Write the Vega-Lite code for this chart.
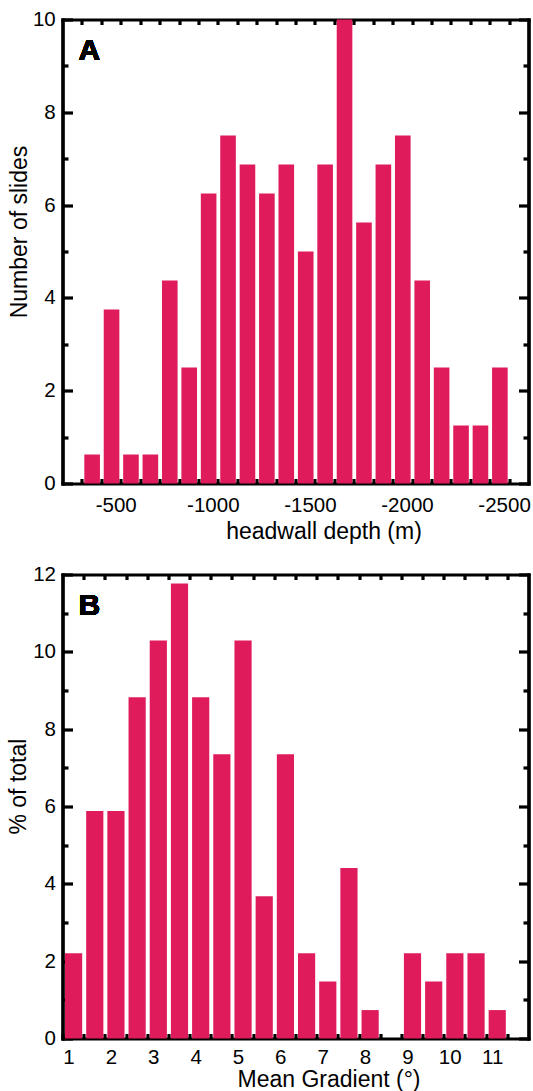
{
  "$schema": "https://vega.github.io/schema/vega-lite/v6.json",
  "autosize": {"type": "pad"},
  "padding": {"left": 6.5, "top": 9.5, "right": 0, "bottom": 0},
  "bounds": "flush",
  "spacing": 91,
  "config": {
    "view": {"stroke": null},
    "font": "Liberation Sans",
    "axis": {
      "domainColor": "black", "domainWidth": 3.2, "domainCap": "square",
      "tickColor": "black", "tickWidth": 3.2,
      "labelFont": "Liberation Sans", "labelFontSize": 20.5, "labelColor": "black",
      "labelFlush": false, "labelOverlap": false,
      "titleFont": "Liberation Sans", "titleFontSize": 23, "titleFontWeight": "normal", "titleColor": "black",
      "grid": false, "zindex": 1
    }
  },
  "vconcat": [
    {
      "width": 466, "height": 464,
      "data": {"values": [
        {"shallow": -300, "deep": -400, "v": 0.625},
        {"shallow": -400, "deep": -500, "v": 3.75},
        {"shallow": -500, "deep": -600, "v": 0.625},
        {"shallow": -600, "deep": -700, "v": 0.625},
        {"shallow": -700, "deep": -800, "v": 4.375},
        {"shallow": -800, "deep": -900, "v": 2.5},
        {"shallow": -900, "deep": -1000, "v": 6.25},
        {"shallow": -1000, "deep": -1100, "v": 7.5},
        {"shallow": -1100, "deep": -1200, "v": 6.875},
        {"shallow": -1200, "deep": -1300, "v": 6.25},
        {"shallow": -1300, "deep": -1400, "v": 6.875},
        {"shallow": -1400, "deep": -1500, "v": 5.0},
        {"shallow": -1500, "deep": -1600, "v": 6.875},
        {"shallow": -1600, "deep": -1700, "v": 10},
        {"shallow": -1700, "deep": -1800, "v": 5.625},
        {"shallow": -1800, "deep": -1900, "v": 6.875},
        {"shallow": -1900, "deep": -2000, "v": 7.5},
        {"shallow": -2000, "deep": -2100, "v": 4.375},
        {"shallow": -2100, "deep": -2200, "v": 2.5},
        {"shallow": -2200, "deep": -2300, "v": 1.25},
        {"shallow": -2300, "deep": -2400, "v": 1.25},
        {"shallow": -2400, "deep": -2500, "v": 2.5}
      ]},
      "resolve": {"scale": {"x": "independent", "y": "independent"}},
      "layer": [
        {
          "mark": {"type": "bar", "color": "#E01B5B", "binSpacing": 3.8},
          "encoding": {
            "x": {"field": "deep", "type": "quantitative", "bin": "binned",
              "scale": {"domain": [-2600, -200], "reverse": true, "nice": false, "zero": false},
              "axis": {"orient": "bottom", "values": [-300,-400,-500,-600,-700,-800,-900,-1000,-1100,-1200,-1300,-1400,-1500,-1600,-1700,-1800,-1900,-2000,-2100,-2200,-2300,-2400,-2500],
                "labelExpr": "datum.value % 500 === 0 ? toString(datum.value) : ''",
                "tickSize": -5, "labelPadding": 32.9, "labelBaseline": "alphabetic", "labelOffset": -5,
                "title": "headwall depth (m)", "titleX": 261, "titleY": 55, "titleBaseline": "alphabetic", "titleAlign": "center"}},
            "x2": {"field": "shallow"},
            "y": {"field": "v", "type": "quantitative",
              "scale": {"domain": [0, 10], "nice": false},
              "axis": {"orient": "left", "values": [0, 2, 4, 6, 8, 10], "tickSize": -10, "labelPadding": 17.3,
                "title": "Number of slides", "titleX": -36.5, "titleY": 212, "titleBaseline": "alphabetic", "titleAlign": "center", "titleAngle": 270}}
          }
        },
        {
          "mark": {"type": "point", "opacity": 0},
          "encoding": {
            "x": {"field": "deep", "type": "quantitative",
              "scale": {"domain": [-2600, -200], "reverse": true, "nice": false, "zero": false},
              "axis": {"orient": "top", "values": [-300,-400,-500,-600,-700,-800,-900,-1000,-1100,-1200,-1300,-1400,-1500,-1600,-1700,-1800,-1900,-2000,-2100,-2200,-2300,-2400,-2500],
                "labels": false, "tickSize": -5, "title": null}},
            "y": {"field": "v", "type": "quantitative",
              "scale": {"domain": [0, 10], "nice": false},
              "axis": {"orient": "left", "values": [1, 3, 5, 7, 9], "labels": false, "tickSize": -5.5, "title": null}}
          }
        },
        {
          "mark": {"type": "point", "opacity": 0},
          "encoding": {
            "x": {"field": "deep", "type": "quantitative",
              "scale": {"domain": [-2600, -200], "reverse": true, "nice": false, "zero": false}, "axis": null},
            "y": {"field": "v", "type": "quantitative",
              "scale": {"domain": [0, 10], "nice": false},
              "axis": {"orient": "right", "values": [0, 2, 4, 6, 8, 10], "labels": false, "tickSize": -10, "title": null}}
          }
        },
        {
          "mark": {"type": "point", "opacity": 0},
          "encoding": {
            "x": {"field": "deep", "type": "quantitative",
              "scale": {"domain": [-2600, -200], "reverse": true, "nice": false, "zero": false}, "axis": null},
            "y": {"field": "v", "type": "quantitative",
              "scale": {"domain": [0, 10], "nice": false},
              "axis": {"orient": "right", "values": [1, 3, 5, 7, 9], "labels": false, "tickSize": -5.5, "title": null}}
          }
        },
        {
          "mark": {"type": "text", "text": "A", "fontSize": 30, "fontWeight": "bold", "font": "Liberation Sans", "align": "left", "baseline": "alphabetic", "color": "black"},
          "encoding": {
            "x": {"datum": -282, "type": "quantitative",
              "scale": {"domain": [-2600, -200], "reverse": true, "nice": false, "zero": false}, "axis": null},
            "y": {"datum": 9.13, "type": "quantitative",
              "scale": {"domain": [0, 10], "nice": false}, "axis": null}
          }
        }
      ]
    },
    {
      "width": 466, "height": 464,
      "data": {"values": [
        {"lo": 1.0, "hi": 1.5, "v": 2.206},
        {"lo": 1.5, "hi": 2.0, "v": 5.882},
        {"lo": 2.0, "hi": 2.5, "v": 5.882},
        {"lo": 2.5, "hi": 3.0, "v": 8.824},
        {"lo": 3.0, "hi": 3.5, "v": 10.294},
        {"lo": 3.5, "hi": 4.0, "v": 11.765},
        {"lo": 4.0, "hi": 4.5, "v": 8.824},
        {"lo": 4.5, "hi": 5.0, "v": 7.353},
        {"lo": 5.0, "hi": 5.5, "v": 10.294},
        {"lo": 5.5, "hi": 6.0, "v": 3.676},
        {"lo": 6.0, "hi": 6.5, "v": 7.353},
        {"lo": 6.5, "hi": 7.0, "v": 2.206},
        {"lo": 7.0, "hi": 7.5, "v": 1.471},
        {"lo": 7.5, "hi": 8.0, "v": 4.412},
        {"lo": 8.0, "hi": 8.5, "v": 0.735},
        {"lo": 8.5, "hi": 9.0, "v": 0},
        {"lo": 9.0, "hi": 9.5, "v": 2.206},
        {"lo": 9.5, "hi": 10.0, "v": 1.471},
        {"lo": 10.0, "hi": 10.5, "v": 2.206},
        {"lo": 10.5, "hi": 11.0, "v": 2.206},
        {"lo": 11.0, "hi": 11.5, "v": 0.735}
      ]},
      "resolve": {"scale": {"x": "independent", "y": "independent"}},
      "layer": [
        {
          "mark": {"type": "bar", "color": "#E01B5B", "binSpacing": 4},
          "encoding": {
            "x": {"field": "lo", "type": "quantitative", "bin": "binned",
              "scale": {"domain": [1, 12], "nice": false, "zero": false},
              "axis": {"orient": "bottom", "values": [1,1.5,2,2.5,3,3.5,4,4.5,5,5.5,6,6.5,7,7.5,8,8.5,9,9.5,10,10.5,11,11.5],
                "labelExpr": "datum.value % 1 === 0 ? toString(datum.value) : ''",
                "tickSize": -5, "labelPadding": 30.2, "labelBaseline": "alphabetic", "labelOffset": 6,
                "title": "Mean Gradient (°)", "titleX": 266, "titleY": 48, "titleBaseline": "alphabetic", "titleAlign": "center"}},
            "x2": {"field": "hi"},
            "y": {"field": "v", "type": "quantitative",
              "scale": {"domain": [0, 12], "nice": false},
              "axis": {"orient": "left", "values": [0, 2, 4, 6, 8, 10, 12], "tickSize": -10, "labelPadding": 17,
                "title": "% of total", "titleX": -37.4, "titleY": 211.6, "titleBaseline": "alphabetic", "titleAlign": "center", "titleAngle": 270}}
          }
        },
        {
          "mark": {"type": "point", "opacity": 0},
          "encoding": {
            "x": {"field": "lo", "type": "quantitative",
              "scale": {"domain": [1, 12], "nice": false, "zero": false},
              "axis": {"orient": "top", "values": [1.5,2,2.5,3,3.5,4,4.5,5,5.5,6,6.5,7,7.5,8,8.5,9,9.5,10,10.5,11,11.5],
                "labels": false, "tickSize": -5, "title": null}},
            "y": {"field": "v", "type": "quantitative",
              "scale": {"domain": [0, 12], "nice": false},
              "axis": {"orient": "left", "values": [1, 3, 5, 7, 9, 11], "labels": false, "tickSize": -5.5, "title": null}}
          }
        },
        {
          "mark": {"type": "point", "opacity": 0},
          "encoding": {
            "x": {"field": "lo", "type": "quantitative",
              "scale": {"domain": [1, 12], "nice": false, "zero": false}, "axis": null},
            "y": {"field": "v", "type": "quantitative",
              "scale": {"domain": [0, 12], "nice": false},
              "axis": {"orient": "right", "values": [0, 2, 4, 6, 8, 10, 12], "labels": false, "tickSize": -10, "title": null}}
          }
        },
        {
          "mark": {"type": "point", "opacity": 0},
          "encoding": {
            "x": {"field": "lo", "type": "quantitative",
              "scale": {"domain": [1, 12], "nice": false, "zero": false}, "axis": null},
            "y": {"field": "v", "type": "quantitative",
              "scale": {"domain": [0, 12], "nice": false},
              "axis": {"orient": "right", "values": [1, 3, 5, 7, 9, 11], "labels": false, "tickSize": -5.5, "title": null}}
          }
        },
        {
          "mark": {"type": "text", "text": "B", "fontSize": 30, "fontWeight": "bold", "font": "Liberation Sans", "align": "left", "baseline": "alphabetic", "color": "black"},
          "encoding": {
            "x": {"datum": 1.38, "type": "quantitative",
              "scale": {"domain": [1, 12], "nice": false, "zero": false}, "axis": null},
            "y": {"datum": 10.94, "type": "quantitative",
              "scale": {"domain": [0, 12], "nice": false}, "axis": null}
          }
        }
      ]
    }
  ]
}
